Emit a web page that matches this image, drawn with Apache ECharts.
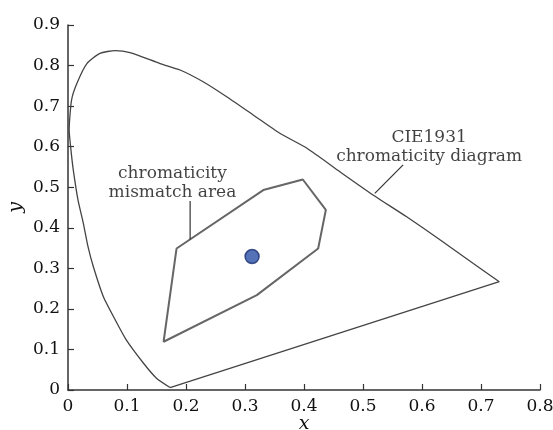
<!DOCTYPE html>
<html><head><meta charset="utf-8">
<script src="https://cdn.jsdelivr.net/npm/echarts@6/dist/echarts.min.js"></script>
<style>html,body{margin:0;padding:0;background:#fff}#c{width:553px;height:430px}</style>
</head><body><div id="c"></div>
<script>
// CIE1931 spectral locus
const locusX = [0.173,0.150,0.128,0.099,0.080,0.060,0.043,0.034,0.026,0.017,0.009,0.005,0.002,0.006,0.015,0.032,0.054,0.080,0.105,0.156,0.190,0.229,0.269,0.314,0.359,0.405,0.461,0.517,0.574,0.631,0.687,0.731];
const locusY = [0.006,0.029,0.066,0.123,0.173,0.230,0.304,0.353,0.411,0.468,0.542,0.592,0.641,0.715,0.756,0.805,0.830,0.837,0.832,0.805,0.789,0.760,0.723,0.678,0.633,0.596,0.538,0.481,0.427,0.370,0.312,0.267];
// line of purples
const purpleX = [0.731,0.173];
const purpleY = [0.267,0.006];
// chromaticity mismatch area polygon
const areaX = [0.184,0.331,0.398,0.437,0.424,0.320,0.162,0.184];
const areaY = [0.349,0.493,0.519,0.444,0.349,0.234,0.119,0.349];
// white point
const pointX = [0.312];
const pointY = [0.329];
// annotation leader lines
const leader1X = [0.207,0.207], leader1Y = [0.466,0.371];
const leader2X = [0.568,0.520], leader2Y = [0.555,0.485];
// annotation texts
const notes = [
  {x:0.177, y:0.510, text:'chromaticity\nmismatch area'},
  {x:0.612, y:0.599, text:'CIE1931\nchromaticity diagram'}
];
const xTicks = [0,0.1,0.2,0.3,0.4,0.5,0.6,0.7,0.8];
const yTicks = [0,0.1,0.2,0.3,0.4,0.5,0.6,0.7,0.8,0.9];

const zip = (a,b)=>a.map((v,i)=>[v,b[i]]);
const font = 'DejaVu Serif';
const chart = echarts.init(document.getElementById('c'),null,{renderer:'canvas'});
chart.setOption({
  animation:false,
  backgroundColor:'#fff',
  grid:{left:68,right:13,top:25,bottom:40,containLabel:false,outerBoundsMode:'none'},
  xAxis:{type:'value',min:xTicks[0],max:xTicks[xTicks.length-1],interval:0.1,
    name:'x',nameLocation:'middle',nameGap:25,nameMoveOverlap:false,
    nameTextStyle:{fontFamily:font,fontStyle:'italic',fontSize:19,color:'#111'},
    axisLine:{lineStyle:{color:'#333',width:1.5}},
    axisTick:{inside:true,length:6,lineStyle:{color:'#333',width:1.2}},
    axisLabel:{fontFamily:font,fontSize:17,color:'#111',margin:8},
    splitLine:{show:false}},
  yAxis:{type:'value',min:yTicks[0],max:yTicks[yTicks.length-1],interval:0.1,
    name:'y',nameLocation:'middle',nameGap:42,nameRotate:90,nameMoveOverlap:false,
    nameTextStyle:{fontFamily:font,fontStyle:'italic',fontSize:19,color:'#111'},
    axisLine:{lineStyle:{color:'#333',width:1.5}},
    axisTick:{inside:true,length:6,lineStyle:{color:'#333',width:1.2}},
    axisLabel:{fontFamily:font,fontSize:17,color:'#111',margin:8},
    splitLine:{show:false}},
  series:[
    {type:'line',data:zip(locusX,locusY),symbol:'none',smooth:0.2,
     lineStyle:{color:'#444',width:1.3}},
    {type:'line',data:zip(purpleX,purpleY),symbol:'none',
     lineStyle:{color:'#444',width:1.3}},
    {type:'line',data:zip(areaX,areaY),symbol:'none',
     lineStyle:{color:'#666',width:2}},
    {type:'line',data:zip(leader1X,leader1Y),symbol:'none',lineStyle:{color:'#333',width:1.2}},
    {type:'line',data:zip(leader2X,leader2Y),symbol:'none',lineStyle:{color:'#333',width:1.2}},
    {type:'scatter',data:zip(pointX,pointY),symbolSize:14,
     itemStyle:{color:'#2a4fa8',borderColor:'#1a2f6e',borderWidth:1.5}},
    {type:'scatter',data:notes.map(n=>({value:[n.x,n.y],text:n.text})),symbolSize:0,
     label:{show:true,position:'inside',formatter:p=>p.data.text,
       fontFamily:font,fontSize:17,color:'#111',lineHeight:19,align:'center'}}
  ]
});
</script></body></html>
